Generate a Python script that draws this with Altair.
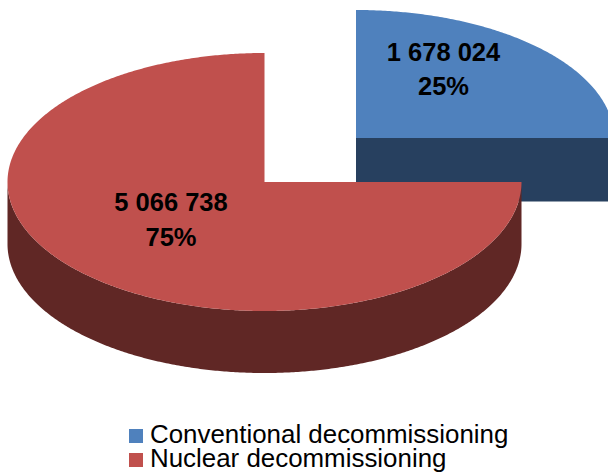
import altair as alt
import numpy as np
import pandas as pd

# Decommissioning totals and their rounded shares
series = ["Conventional decommissioning", "Nuclear decommissioning"]
amounts = [1678024, 5066738]
percents = [25, 75]

top_colors = ["#4F81BD", "#C0504D"]
side_colors = ["#27405F", "#602725"]

# Pie drawn in page units: radii and centre of each wedge, extrusion depth
RADII = [(258, 128), (257, 129)]
CENTRES = [(356, 138), (264.5, 182)]
DEPTH = 62
LABEL_POS = [(443.5, 61, 95), (171, 211, 246)]
W, H = 608, 472

# Key rows: swatch centre, label start and baseline of each row
KEY_SWATCH_X, KEY_LABEL_X = 136, 150
KEY_SWATCH_Y = [436, 460]
KEY_BASELINE = [443, 466.5]

# Sweep over the upper half, splitting at the vertical so wedge edges stay upright
DEGREES = np.concatenate([np.linspace(0, 89.9999, 181), np.linspace(90.0001, 180, 181)])


def wedge_rows(name, centre, radii, start, sweep):
    """Top face of an axis-aligned wedge as x-monotone bands."""
    cx, cy = centre
    rx, ry = radii
    end = start + sweep
    rows = []
    for deg in DEGREES:
        a = np.radians(deg)
        h = ry * np.sin(a)
        up = cy - h if start <= deg <= end else cy
        low = cy + h if start <= 360 - deg <= end else cy
        rows.append({"series": name, "x": cx + rx * np.cos(a), "y": up, "y2": low})
    return rows


angle = 0
tops = []
for name, centre, radii, pct in zip(series, CENTRES, RADII, percents):
    sweep = 360 * pct / 100
    tops += wedge_rows(name, centre, radii, angle, sweep)
    angle += sweep
tops = pd.DataFrame(tops)

# Visible rim of the large wedge: front half of the ellipse pushed down by the depth
t = np.radians(DEGREES)
nx, ny = CENTRES[1]
nrx, nry = RADII[1]
red_side = pd.DataFrame({
    "x": nx + nrx * np.cos(t),
    "y": ny + nry * np.sin(t),
    "y2": ny + nry * np.sin(t) + DEPTH,
})

# Cut face of the small wedge, seen from the front
bx, by = CENTRES[0]
brx = RADII[0][0]
blue_side = pd.DataFrame({"x": [bx, bx + brx], "y": [by, by], "y2": [by + DEPTH + 1.5] * 2})

labels = pd.DataFrame({
    "x": [p[0] for p in LABEL_POS],
    "y1": [p[1] for p in LABEL_POS],
    "y2": [p[2] for p in LABEL_POS],
    "amount": [f"{a:,}".replace(",", " ") for a in amounts],
    "pct": [f"{p}%" for p in percents],
})

key = pd.DataFrame({
    "series": series,
    "sx": [KEY_SWATCH_X] * len(series),
    "sy": KEY_SWATCH_Y,
    "lx": [KEY_LABEL_X] * len(series),
    "ly": KEY_BASELINE,
})

x_scale = alt.Scale(domain=[0, W], nice=False, zero=False)
y_scale = alt.Scale(domain=[H, 0], nice=False, zero=False)
color_scale = alt.Scale(domain=series, range=top_colors)
x_enc = alt.X("x:Q", axis=None, scale=x_scale)
y_enc = alt.Y("y:Q", axis=None, scale=y_scale)


def side(df, color):
    return alt.Chart(df).mark_area(orient="vertical", clip=True, color=color).encode(
        x=x_enc, y=y_enc, y2="y2:Q"
    )


top_layer = alt.Chart(tops).mark_area(orient="vertical", clip=True).encode(
    x=x_enc,
    y=y_enc,
    y2="y2:Q",
    color=alt.Color("series:N", scale=color_scale, legend=None),
)


def text_layer(field, ypos):
    return alt.Chart(labels).mark_text(
        font="Liberation Sans",
        fontWeight="bold",
        fontSize=25.5,
        color="#000000",
        baseline="alphabetic",
        align="center",
    ).encode(
        x=x_enc,
        y=alt.Y(f"{ypos}:Q", axis=None, scale=y_scale),
        text=f"{field}:N",
    )


# Hand-set key so the two rows sit closer than the built-in legend allows
key_swatches = alt.Chart(key).mark_square(size=196, opacity=1, strokeWidth=0).encode(
    x=alt.X("sx:Q", axis=None, scale=x_scale),
    y=alt.Y("sy:Q", axis=None, scale=y_scale),
    color=alt.Color("series:N", scale=color_scale, legend=None),
)
key_labels = alt.Chart(key).mark_text(
    font="Liberation Sans",
    fontSize=25.9,
    color="#000000",
    baseline="alphabetic",
    align="left",
).encode(
    x=alt.X("lx:Q", axis=None, scale=x_scale),
    y=alt.Y("ly:Q", axis=None, scale=y_scale),
    text="series:N",
)

chart = alt.layer(
    side(blue_side, side_colors[0]),
    side(red_side, side_colors[1]),
    top_layer,
    text_layer("amount", "y1"),
    text_layer("pct", "y2"),
    key_swatches,
    key_labels,
).properties(
    width=W,
    height=H,
    padding=0,
    autosize=alt.AutoSizeParams(type="none"),
    background="#ffffff",
).configure_view(stroke=None)

chart.save("out.html", embed_options={"renderer": "svg", "actions": False})
